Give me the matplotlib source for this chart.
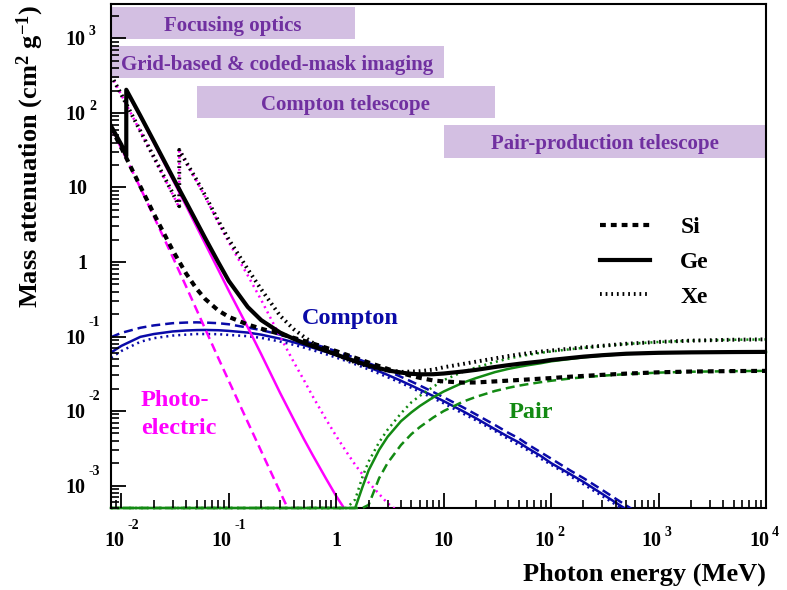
import numpy as np
import matplotlib
matplotlib.use("Agg")
import matplotlib.pyplot as plt
import matplotlib.transforms as mtransforms
from matplotlib.patches import Rectangle
from matplotlib.ticker import LogLocator, NullFormatter

# ---------------- data: mass attenuation coefficients (cm^2/g) ----------------
# common energy grid (MeV) for total (Si) and Compton curves
energy = [0.008, 0.01, 0.015, 0.02, 0.03, 0.04, 0.05, 0.06, 0.08, 0.1, 0.15, 0.2,
          0.3, 0.4, 0.5, 0.6, 0.8, 1, 1.25, 1.5, 2, 3, 4, 5, 6, 8, 10, 15, 20,
          30, 40, 50, 60, 80, 100, 150, 200, 300, 500, 1000, 2000, 5000, 10000]

si_total = [63.5, 33.9, 10.34, 4.46, 1.436, 0.701, 0.4385, 0.3207, 0.2228, 0.1835,
            0.1448, 0.1275, 0.1082, 0.0961, 0.0875, 0.0808, 0.0708, 0.0636, 0.0569,
            0.0518, 0.0448, 0.0368, 0.0324, 0.0297, 0.0279, 0.0257, 0.0250, 0.0241,
            0.0242, 0.0250, 0.0256, 0.0261, 0.0265, 0.0272, 0.0277, 0.0289, 0.0296,
            0.0306, 0.0318, 0.0331, 0.0339, 0.0344, 0.0346]

si_compton = [0.098, 0.112, 0.131, 0.141, 0.151, 0.154, 0.155, 0.154, 0.151, 0.146,
              0.1318, 0.122, 0.106, 0.0951, 0.0868, 0.0803, 0.0705, 0.0634, 0.0567,
              0.0515, 0.0440, 0.0346, 0.0288, 0.0249, 0.0220, 0.0180, 0.0153, 0.0113,
              0.0090, 0.0065, 0.0051, 0.0043, 0.0036, 0.0028, 0.0023, 0.0016, 0.00126,
              0.00087, 0.00054, 0.00029, 0.00016, 0.00007, 0.00004]
ge_compton = [0.061, 0.075, 0.099, 0.108, 0.117, 0.1205, 0.122, 0.1225, 0.1215, 0.119,
              0.113, 0.106, 0.0935, 0.0838, 0.0766, 0.0709, 0.0623, 0.0561, 0.0501,
              0.0456, 0.0389, 0.0306, 0.0255, 0.0220, 0.0194, 0.0159, 0.0136, 0.0100,
              0.0080, 0.0057, 0.0045, 0.0038, 0.0032, 0.0025, 0.0020, 0.00143, 0.00112,
              0.00077, 0.00048, 0.00026, 0.00014, 0.00006, 0.00003]
xe_compton = [0.052, 0.064, 0.085, 0.095, 0.103, 0.106, 0.108, 0.108, 0.1075, 0.105,
              0.101, 0.096, 0.0855, 0.0775, 0.071, 0.0658, 0.0579, 0.0521, 0.0467,
              0.0424, 0.0362, 0.0285, 0.0238, 0.0205, 0.0181, 0.0148, 0.0127, 0.0093,
              0.0075, 0.0054, 0.0042, 0.0035, 0.0030, 0.0023, 0.0019, 0.00134, 0.00104,
              0.00072, 0.00045, 0.00024, 0.00013, 0.00006, 0.00003]

# Si photoelectric
energy_si_photo = [0.008, 0.01, 0.015, 0.02, 0.03, 0.04, 0.05, 0.06, 0.08, 0.1, 0.15,
                   0.2, 0.3, 0.4, 0.5]
si_photo = [63.0, 33.3, 9.9, 4.1, 1.17, 0.47, 0.23, 0.128, 0.051, 0.0253, 0.0071,
            0.0029, 0.00082, 0.00034, 0.00018]

# Ge (K edge at 11.1 keV)
energy_ge = [0.008, 0.01, 0.0111, 0.0111, 0.015, 0.02, 0.03, 0.04, 0.05, 0.06, 0.08,
             0.1, 0.15, 0.2, 0.3, 0.4, 0.5, 0.6, 0.8, 1, 1.25, 1.5, 2, 3, 4, 5, 6, 8,
             10, 15, 20, 30, 40, 50, 60, 80, 100, 150, 200, 300, 500, 1000, 2000,
             5000, 10000]
ge_total = [67, 37.4, 26.5, 205, 92, 42, 13.8, 6.36, 3.47, 2.11, 0.984, 0.555, 0.249,
            0.166, 0.113, 0.0933, 0.0819, 0.0745, 0.0643, 0.0573, 0.0510, 0.0466,
            0.0409, 0.0352, 0.0328, 0.0316, 0.0311, 0.0312, 0.0319, 0.0339, 0.0357,
            0.0390, 0.0413, 0.0430, 0.0443, 0.0463, 0.0485, 0.0515, 0.0537, 0.0562,
            0.0588, 0.0605, 0.0613, 0.0619, 0.0622]
ge_photo = [66, 36.8, 26, 198, 89, 40, 12.8, 5.7, 3.0, 1.78, 0.78, 0.41, 0.133, 0.058,
            0.0175, 0.0078, 0.0042, 0.0026, 0.00125, 0.00072, 0.00044, 0.0003]

# Xe (K edge at 34.56 keV)
energy_xe = [0.008, 0.01, 0.015, 0.02, 0.03, 0.03456, 0.03456, 0.04, 0.05, 0.06, 0.08,
             0.1, 0.15, 0.2, 0.3, 0.4, 0.5, 0.6, 0.8, 1, 1.25, 1.5, 2, 3, 4, 5, 6, 8,
             10, 15, 20, 30, 40, 50, 60, 80, 100, 150, 200, 300, 500, 1000, 2000,
             5000, 10000]
xe_total = [322, 176, 57.5, 25.8, 8.4, 5.6, 32, 22, 12.7, 7.9, 3.55, 2.0, 0.80, 0.43,
            0.19, 0.126, 0.099, 0.083, 0.0666, 0.0573, 0.0497, 0.0451, 0.0395, 0.0347,
            0.0335, 0.0339, 0.0343, 0.0360, 0.0387, 0.0428, 0.0460, 0.0509, 0.0547,
            0.0575, 0.0595, 0.0628, 0.0649, 0.0688, 0.0715, 0.0752, 0.0800, 0.0847,
            0.0881, 0.0906, 0.0916]
xe_photo = [320, 174, 56.5, 25.2, 8.1, 5.35, 31.5, 21.5, 12.3, 7.6, 3.35, 1.83, 0.66,
            0.31, 0.10, 0.046, 0.026, 0.016, 0.0078, 0.0046, 0.0028, 0.0019, 0.0011,
            0.00058, 0.00042, 0.00033]

# pair production (zero below threshold)
energy_pair = [0.008, 1.022, 1.25, 1.5, 1.75, 2, 2.5, 3, 4, 5, 6, 8, 10, 15, 20, 30,
               40, 50, 60, 80, 100, 150, 200, 300, 500, 1000, 2000, 5000, 10000]
si_pair = [0, 0, 1e-5, 8e-5, 2.5e-4, 5.5e-4, 1.25e-3, 2.0e-3, 3.5e-3, 4.9e-3, 6.1e-3,
           8.2e-3, 0.0100, 0.0133, 0.0155, 0.0186, 0.0205, 0.0219, 0.0229, 0.0244,
           0.0255, 0.0273, 0.0284, 0.0298, 0.0313, 0.0328, 0.0337, 0.0343, 0.0346]
ge_pair = [0, 0, 1e-4, 4.5e-4, 9.5e-4, 1.6e-3, 3.0e-3, 4.5e-3, 7.3e-3, 9.6e-3, 0.0117,
           0.0153, 0.0183, 0.0239, 0.0277, 0.0333, 0.0368, 0.0392, 0.0411, 0.0438,
           0.0465, 0.0500, 0.0526, 0.0554, 0.0583, 0.0602, 0.0613, 0.0619, 0.0622]
xe_pair = [0, 0, 1.5e-4, 6.5e-4, 1.3e-3, 2.1e-3, 3.8e-3, 5.6e-3, 9.3e-3, 0.0131, 0.0160,
           0.0212, 0.0260, 0.0335, 0.0385, 0.0455, 0.0505, 0.0540, 0.0565, 0.0605,
           0.0630, 0.0675, 0.0705, 0.0745, 0.0795, 0.0845, 0.0880, 0.0905, 0.0915]

# instrument energy ranges (MeV)
box_labels = ["Focusing optics", "Grid-based & coded-mask imaging",
              "Compton telescope", "Pair-production telescope"]
box_emin = [0.008, 0.008, 0.05, 10]
box_emax = [1.5, 10, 30, 1e4]

xtick_vals = [1e-2, 1e-1, 1, 10, 1e2, 1e3, 1e4]
xtick_base = ["10", "10", "1", "10", "10", "10", "10"]
xtick_exp = ["-2", "-1", "", "", "2", "3", "4"]
ytick_vals = [1e-3, 1e-2, 1e-1, 1, 10, 1e2, 1e3]
ytick_base = ["10", "10", "10", "1", "10", "10", "10"]
ytick_exp = ["-3", "-2", "-1", "", "", "2", "3"]

# ---------------- style ----------------
plt.rcParams["font.family"] = ["Liberation Serif", "DejaVu Serif"]
plt.rcParams["font.weight"] = "bold"
plt.rcParams["mathtext.fontset"] = "custom"
plt.rcParams["mathtext.rm"] = "Liberation Serif:bold"
plt.rcParams["mathtext.it"] = "Liberation Serif:bold:italic"
plt.rcParams["mathtext.bf"] = "Liberation Serif:bold"

BLUE = "#0a0aa8"
MAGENTA = "#ff00ff"
GREEN = "#138a13"
BOX_FILL = "#d3bfe2"
BOX_TEXT = "#7030a0"
YMIN, YMAX = 5e-4, 2.9e3

SI_BLACK = dict(color="black", lw=3.0, ls=(0, (1.4, 1.2)))
GE_BLACK = dict(color="black", lw=3.0, ls="-")
XE_BLACK = dict(color="black", lw=2.8, ls=(0, (0.45, 1.0)))
SI_COL = dict(lw=1.8, ls=(0, (3.6, 2.0)))
GE_COL = dict(lw=1.8, ls="-")
XE_COL = dict(lw=1.8, ls=(0, (0.8, 1.6)))

fig = plt.figure(figsize=(7.87, 5.90), dpi=100)
ax = fig.add_axes([111 / 787, 82 / 590, 655 / 787, 504 / 590])
ax.set_xscale("log")
ax.set_yscale("log")
ax.set_xlim(0.008, 1e4)
ax.set_ylim(YMIN, YMAX)

# component curves
for st, comp in zip([SI_COL, GE_COL, XE_COL], [si_compton, ge_compton, xe_compton]):
    ax.plot(energy, comp, color=BLUE, zorder=2.0, **st)
ax.plot(energy_si_photo, si_photo, color=MAGENTA, zorder=2.0, **SI_COL)
ax.plot(energy_ge[:len(ge_photo)], ge_photo, color=MAGENTA, zorder=2.0, **GE_COL)
ax.plot(energy_xe[:len(xe_photo)], xe_photo, color=MAGENTA, zorder=2.0, **XE_COL)
for st, pr in zip([SI_COL, GE_COL, XE_COL], [si_pair, ge_pair, xe_pair]):
    ax.plot(energy_pair, np.maximum(pr, YMIN), color=GREEN, zorder=2.0,
            clip_on=False, **st)

# totals
l_si, = ax.plot(energy, si_total, zorder=2.1, **SI_BLACK)
l_ge, = ax.plot(energy_ge, ge_total, zorder=2.1, **GE_BLACK)
l_xe, = ax.plot(energy_xe, xe_total, zorder=2.1, **XE_BLACK)

# instrument boxes
box_rows = [(975, 2620), (293, 786), (85, 229), (24.8, 68.6)]
for lab, e0, e1, (y0, y1) in zip(box_labels, box_emin, box_emax, box_rows):
    ax.add_patch(Rectangle((e0, y0), e1 - e0, y1 - y0, facecolor=BOX_FILL,
                           edgecolor="none", zorder=2.2))
    ax.text(np.sqrt(e0 * e1), np.sqrt(y0 * y1), lab, ha="center",
            va="center_baseline", color=BOX_TEXT, fontsize=15, zorder=3)

# process labels
ax.text(1.346, 0.146, "Compton", color=BLUE, fontsize=17.5, ha="center",
        va="baseline", zorder=3)
ax.text(0.0152, 0.01174, "Photo-", color=MAGENTA, fontsize=17.5, ha="left",
        va="baseline", zorder=3)
ax.text(0.0152, 0.00494, "electric", color=MAGENTA, fontsize=17.5, ha="left",
        va="baseline", zorder=3)
ax.text(64.8, 0.0081, "Pair", color=GREEN, fontsize=17.5, ha="center",
        va="baseline", zorder=3)

# legend
ax.legend([l_si, l_ge, l_xe], ["Si", "Ge", "Xe"], loc="center left",
          bbox_to_anchor=(0.7466, 0.488), frameon=False, handlelength=2.1,
          handletextpad=1.3, labelspacing=0.56, borderpad=0, borderaxespad=0,
          prop={"size": 17, "weight": "bold"})

# axes frame and ticks
ax.set_axisbelow(False)
for side in ["left", "right", "top", "bottom"]:
    ax.spines[side].set_linewidth(1.5)
ax.spines["bottom"].set_zorder(1.9)
ax.xaxis.set_major_locator(LogLocator(base=10, numticks=20))
ax.yaxis.set_major_locator(LogLocator(base=10, numticks=20))
ax.xaxis.set_minor_locator(LogLocator(base=10, subs=np.arange(2, 10), numticks=20))
ax.yaxis.set_minor_locator(LogLocator(base=10, subs=np.arange(2, 10), numticks=20))
ax.xaxis.set_major_formatter(NullFormatter())
ax.xaxis.set_minor_formatter(NullFormatter())
ax.yaxis.set_major_formatter(NullFormatter())
ax.yaxis.set_minor_formatter(NullFormatter())
ax.tick_params(which="both", direction="in", top=False, right=False)
ax.tick_params(which="major", length=11, width=1.3)
ax.tick_params(which="minor", length=5.5, width=1.2)


def px(dx, dy):
    return mtransforms.ScaledTranslation(dx / 100, dy / 100, fig.dpi_scale_trans)


xt = ax.get_xaxis_transform()
for v, b, e in zip(xtick_vals, xtick_base, xtick_exp):
    if e:
        ax.text(v, 0, b, transform=xt + px(3, -38), ha="right", va="baseline",
                fontsize=14.5, clip_on=False)
        raise_px = 17 if e.startswith("-") else 10
        ax.text(v, 0, e, transform=xt + px(6, -38 + raise_px), ha="left",
                va="baseline", fontsize=10, clip_on=False)
    else:
        ax.text(v, 0, b, transform=xt + px(0, -38), ha="center", va="baseline",
                fontsize=14.5, clip_on=False)

yt = ax.get_yaxis_transform()
for v, b, e in zip(ytick_vals, ytick_base, ytick_exp):
    if e:
        ax.text(0, v, b, transform=yt + px(-26, -7), ha="right", va="baseline",
                fontsize=14.5, clip_on=False)
        raise_px = 18 if e.startswith("-") else 10
        ax.text(0, v, e, transform=yt + px(-22, -7 + raise_px), ha="left",
                va="baseline", fontsize=10, clip_on=False)
    else:
        ax.text(0, v, b, transform=yt + px(-24, -7), ha="right", va="baseline",
                fontsize=14.5, clip_on=False)

fig.text(30 / 787, 585 / 590, r"Mass attenuation (cm$^{2}$ g$^{-1}$)", rotation=90,
         ha="center", va="top", fontsize=19)
fig.text(766 / 787, 9 / 590, "Photon energy (MeV)", ha="right", va="baseline",
         fontsize=19)

fig.savefig("out.png", dpi=100)
